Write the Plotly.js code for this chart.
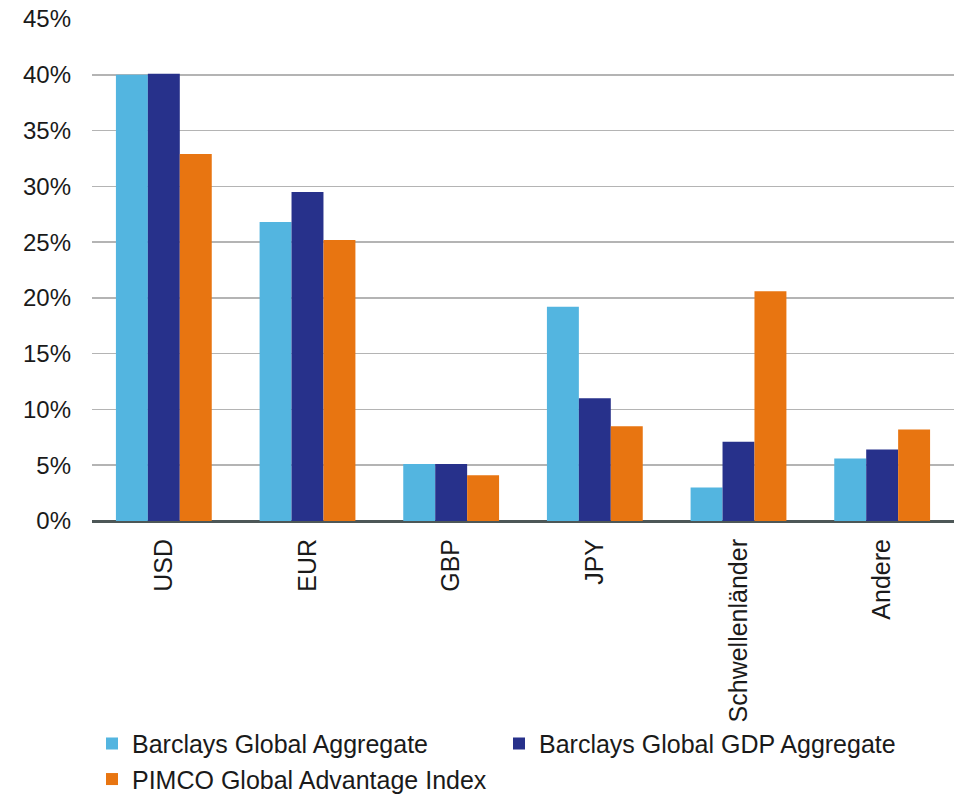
<!DOCTYPE html>
<html>
<head>
<meta charset="utf-8">
<script src="https://cdn.plot.ly/plotly-3.0.1.min.js"></script>
<style>
  html, body { margin: 0; padding: 0; background: #ffffff; }
  #chart { width: 954px; height: 799px; }
</style>
</head>
<body>
<div id="chart"></div>
<script>
// Currency breakdown (share of index, %)
const categories = ['USD', 'EUR', 'GBP', 'JPY', 'Schwellenländer', 'Andere'];
const barclaysAggregate = [40.0, 26.8, 5.1, 19.2, 3.0, 5.6];
const barclaysGdpAggregate = [40.1, 29.5, 5.1, 11.0, 7.1, 6.4];
const pimcoAdvantage = [32.9, 25.2, 4.1, 8.5, 20.6, 8.2];
const seriesNames = ['Barclays Global Aggregate', 'Barclays Global GDP Aggregate', 'PIMCO Global Advantage Index'];
const yTicks = [0, 5, 10, 15, 20, 25, 30, 35, 40, 45];

const colors = ['#53B5E0', '#27318B', '#E87511'];
const font = 'Liberation Sans, Arial, Helvetica, sans-serif';

const traces = [barclaysAggregate, barclaysGdpAggregate, pimcoAdvantage].map((vals, i) => ({
  type: 'bar',
  name: seriesNames[i],
  x: categories,
  y: vals,
  marker: { color: colors[i], line: { width: 0 } },
  hoverinfo: 'x+y+name'
}));

const layout = {
  width: 954,
  height: 799,
  margin: { l: 92, r: 0, t: 19, b: 278, autoexpand: false },
  paper_bgcolor: '#ffffff',
  plot_bgcolor: '#ffffff',
  barmode: 'group',
  bargap: 0.333,
  bargroupgap: 0,
  font: { family: font, color: '#1a1a1a', size: 22 },
  xaxis: {
    type: 'category',
    tickangle: -90,
    showgrid: false,
    showline: false,
    ticks: '',
    ticklabelstandoff: 12,
    tickfont: { family: font, size: 25, color: '#1a1a1a' }
  },
  yaxis: {
    range: [0, 45],
    tickvals: yTicks,
    ticktext: yTicks.map(v => v + '%'),
    showgrid: true,
    gridcolor: '#b4b4b4',
    gridwidth: 1.5,
    zeroline: true,
    zerolinecolor: '#4d5757',
    zerolinewidth: 3,
    showline: false,
    ticks: '',
    ticklabelstandoff: 20,
    tickfont: { family: font, size: 24, color: '#1a1a1a' }
  },
  showlegend: true,
  legend: {
    orientation: 'h',
    x: 0,
    xanchor: 'left',
    y: -0.398,
    yanchor: 'top',
    entrywidth: 362,
    entrywidthmode: 'pixels',
    traceorder: 'normal',
    font: { family: font, size: 25, color: '#1a1a1a' },
    bgcolor: 'rgba(0,0,0,0)'
  }
};

Plotly.newPlot('chart', traces, layout, { displayModeBar: false, staticPlot: true });
</script>
</body>
</html>
